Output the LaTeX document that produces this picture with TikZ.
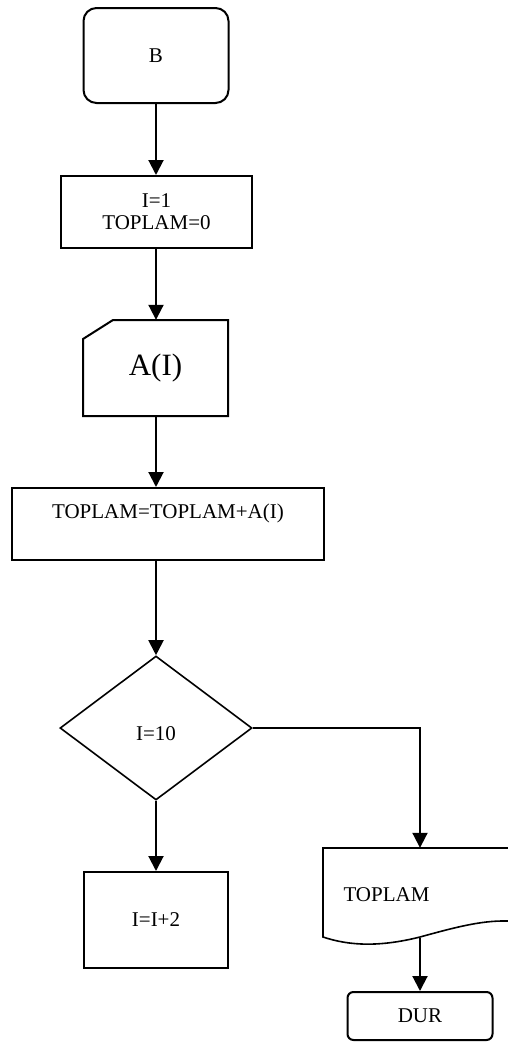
\documentclass[tikz,border=0pt]{standalone}
\usepackage{fontspec}
\setmainfont{Liberation Serif}
\usetikzlibrary{arrows.meta,shapes.geometric}
\begin{document}
\begin{tikzpicture}[x=1pt,y=-1pt,
  line join=miter,
  box/.style={draw,line width=2pt,inner sep=0pt,font=\fontsize{21}{22}\selectfont},
  term/.style={box,rounded corners=13pt},
  txt/.style={inner sep=0pt,font=\fontsize{21}{22}\selectfont,align=center},
  arr/.style={line width=2pt,-{Triangle[length=15pt,width=15pt]}},
  shapeline/.style={draw,line width=1.6pt}]
\useasboundingbox (0,0) rectangle (507,1042);

% start terminal
\node[term,minimum width=145pt,minimum height=95pt] (start) at (156,55.5) {B};

% initialisation
\node[box,minimum width=191pt,minimum height=72pt,align=center] (init) at (156.5,212)
  {I=1\\TOPLAM=0};

% manual input card
\path[shapeline,line width=2pt] (83,339) -- (113,320) -- (228,320) -- (228,416) -- (83,416) -- cycle;
\node[inner sep=0pt,minimum width=145pt,minimum height=96pt] (card) at (156,368) {};
\node[txt,font=\fontsize{31}{32}\selectfont] (cardtext) at (155.5,368) {A(I)};

% accumulation
\node[box,minimum width=312pt,minimum height=72pt] (sum) at (168,524) {};
\node[txt] (sumtext) at (168,513) {TOPLAM=TOPLAM+A(I)};

% decision
\node[draw,line width=1.6pt,diamond,aspect=1.333,minimum width=192pt,minimum height=144pt,inner sep=0pt] (dec) at (156,728) {};
\node[txt] (dectext) at (156,734) {I=10};

% increment
\node[box,minimum width=144pt,minimum height=96pt] (inc) at (156,920) {I=I+2};

% output document
\path[shapeline] (323,937) -- (323,848) -- (520,848) -- (520,922)
  .. controls (490,918) and (460,926) .. (420,937)
  .. controls (380,947) and (350,946) .. (323,937) -- cycle;
\node[inner sep=0pt,minimum width=194pt,minimum height=89pt] (doc) at (420,892.5) {};
\node[txt] (doctext) at (386.5,895) {TOPLAM};
\coordinate (docbot) at (420,938);

% end terminal
\node[box,rounded corners=6pt,minimum width=145pt,minimum height=48pt] (dur) at (420,1016) {DUR};

% connectors
\draw[arr] (start.south) -- (start.south |- init.north);
\draw[arr] (start.south |- init.south) -- (card.north);
\draw[arr] (card.south) -- (card.south |- sum.north);
\draw[arr] (card.south |- sum.south) -- (dec.north);
\draw[arr] (dec.south) -- (dec.south |- inc.north);
\draw[arr] (dec.east) -- (doc.north |- dec.east) -- (doc.north);
\draw[arr] (docbot) -- (dur.north);
\end{tikzpicture}
\end{document}
